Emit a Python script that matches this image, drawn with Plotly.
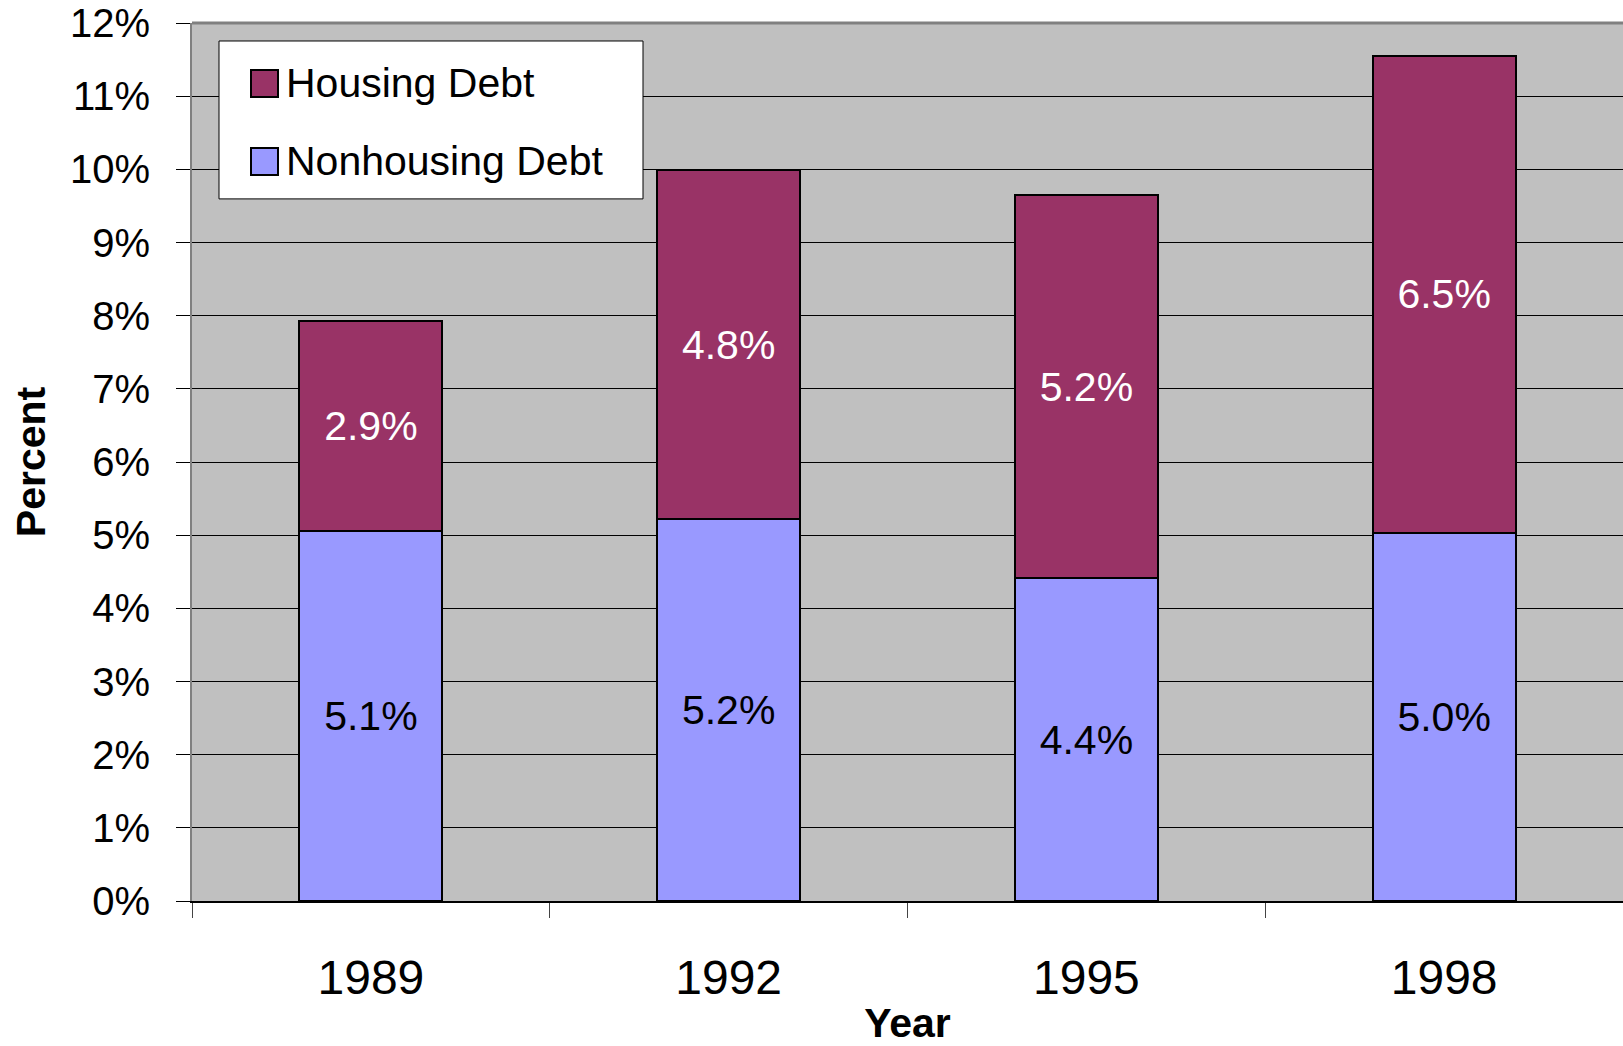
import plotly.graph_objects as go

years = ["1989", "1992", "1995", "1998"]
nonhousing_debt = [5.06, 5.22, 4.41, 5.03]
housing_debt = [2.87, 4.77, 5.24, 6.52]
series_names = ["Housing Debt", "Nonhousing Debt"]
y_ticks = list(range(0, 13))

FONT = "Liberation Sans, Arial, sans-serif"
HOUSING_COLOR = "#993366"
NONHOUSING_COLOR = "#9999FF"

# page body margin is removed below, so figure pixels == page pixels
W, H = 1623, 1046
L, R, T = 192, 0, 23
B = H - 901.5


def px_x(p):
    return (p - L) / (W - L - R)


def px_y(p):
    return (H - B - p) / (H - T - B)


fig = go.Figure()

fig.add_trace(go.Bar(
    x=years, y=nonhousing_debt, name=series_names[1],
    marker=dict(color=NONHOUSING_COLOR, line=dict(color="black", width=2)),
    texttemplate="%{y:.1f}%", textposition="inside", insidetextanchor="middle",
    textfont=dict(family=FONT, size=41, color="black"),
    constraintext="none",
))
fig.add_trace(go.Bar(
    x=years, y=housing_debt, name=series_names[0],
    marker=dict(color=HOUSING_COLOR, line=dict(color="black", width=2)),
    texttemplate="%{y:.1f}%", textposition="inside", insidetextanchor="middle",
    textfont=dict(family=FONT, size=41, color="white"),
    constraintext="none",
))

# hand-made legend box so the swatches can be as large as the original
shapes = [
    dict(type="rect", xref="paper", yref="paper",
         x0=px_x(219), x1=px_x(643), y0=px_y(199), y1=px_y(41),
         fillcolor="white", line=dict(color="black", width=1), layer="above"),
    dict(type="rect", xref="paper", yref="paper",
         x0=px_x(251), x1=px_x(278), y0=px_y(97), y1=px_y(70),
         fillcolor=HOUSING_COLOR, line=dict(color="black", width=2), layer="above"),
    dict(type="rect", xref="paper", yref="paper",
         x0=px_x(251), x1=px_x(278), y0=px_y(175), y1=px_y(148),
         fillcolor=NONHOUSING_COLOR, line=dict(color="black", width=2), layer="above"),
    # grey top border of the plot area
    dict(type="line", xref="paper", yref="paper", x0=0, x1=1, y0=1, y1=1,
         line=dict(color="#808080", width=3), layer="above"),
]
annotations = [
    dict(xref="paper", yref="paper", x=px_x(284), y=px_y(83), text=series_names[0],
         xanchor="left", yanchor="middle", showarrow=False,
         font=dict(family=FONT, size=41, color="black")),
    dict(xref="paper", yref="paper", x=px_x(284), y=px_y(161), text=series_names[1],
         xanchor="left", yanchor="middle", showarrow=False,
         font=dict(family=FONT, size=41, color="black")),
]

fig.update_layout(
    width=W, height=H,
    margin=dict(l=L, r=R, t=T, b=B),
    barmode="stack",
    bargap=0.6,
    showlegend=False,
    paper_bgcolor="white",
    plot_bgcolor="#C0C0C0",
    font=dict(family=FONT, color="black"),
    shapes=shapes,
    annotations=annotations,
)

fig.update_xaxes(
    type="category",
    automargin=False,
    tickson="boundaries",
    ticks="outside", ticklen=15, tickcolor="#444", tickwidth=1,
    tickfont=dict(family=FONT, size=48),
    ticklabelstandoff=33,
    showline=True, linecolor="black", linewidth=2,
    showgrid=False,
    title=dict(text="<b>Year</b>", font=dict(family=FONT, size=41), standoff=24),
)

fig.update_yaxes(
    range=[0, 12],
    automargin=False,
    tickmode="array",
    tickvals=y_ticks,
    ticktext=[f"{v}%" for v in y_ticks],
    ticks="outside", ticklen=14, tickcolor="black", tickwidth=1,
    tickfont=dict(family=FONT, size=40),
    ticklabelstandoff=18,
    ticklabeloverflow="allow",
    showline=True, linecolor="#808080", linewidth=2,
    showgrid=True, gridcolor="black", gridwidth=1,
    zeroline=False,
    title=dict(text="<b>Percent</b>", font=dict(family=FONT, size=41), standoff=12),
)

fig.write_html("out.html", config={"displayModeBar": False},
               post_script="document.body.style.margin = '0';")
